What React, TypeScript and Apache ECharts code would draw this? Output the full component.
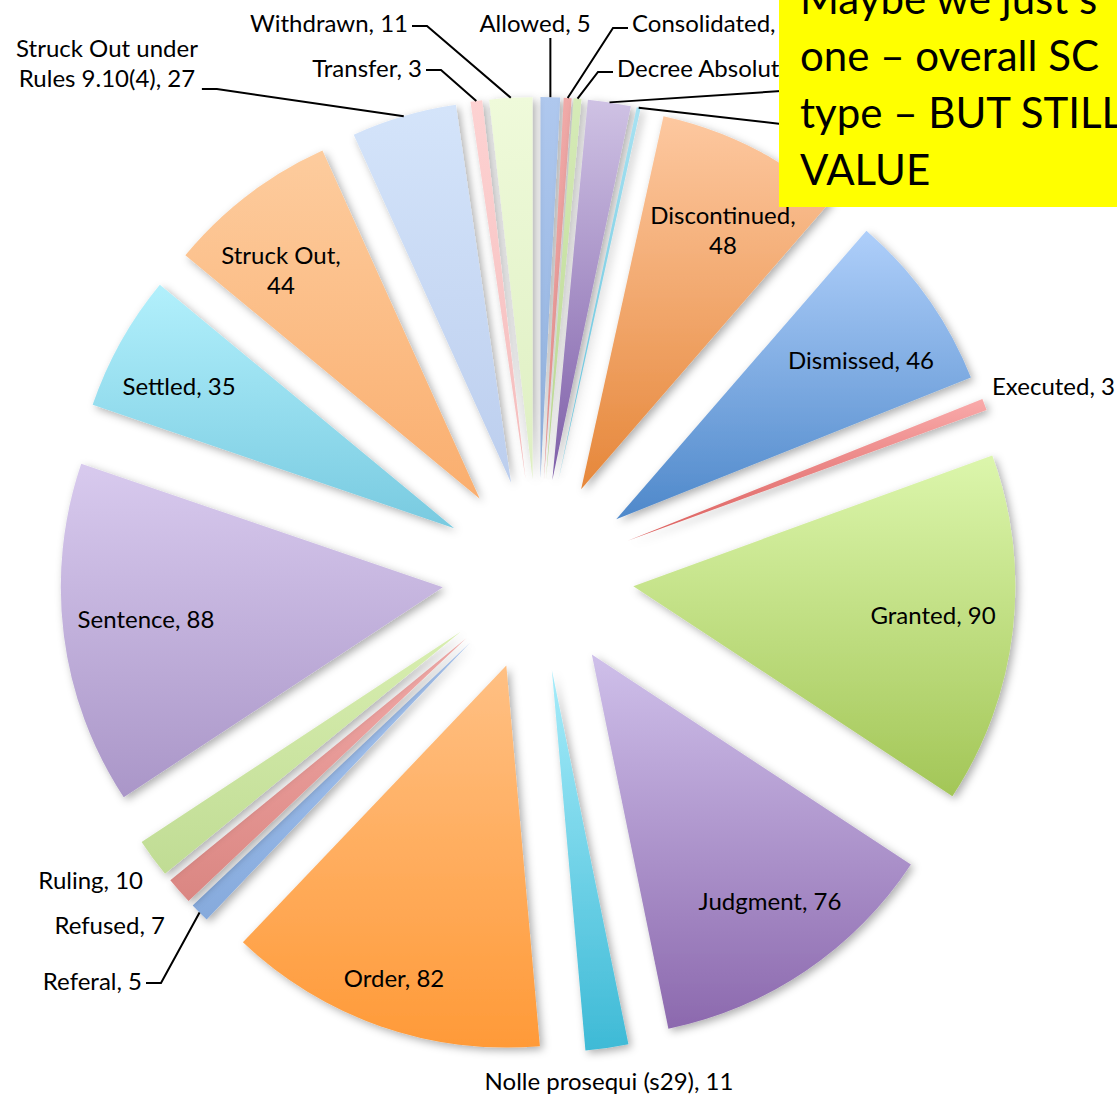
import { useEffect, useRef } from 'react';
import * as echarts from 'echarts';

// ---------------- data ----------------
const categories = [
  'Allowed',
  'Consolidated',
  'Decree Absolute',
  'Decree Nisi',
  'Determined',
  'Discontinued',
  'Dismissed',
  'Executed',
  'Granted',
  'Judgment',
  'Nolle prosequi (s29)',
  'Order',
  'Referal',
  'Refused',
  'Ruling',
  'Sentence',
  'Settled',
  'Struck Out',
  'Struck Out under Rules 9.10(4)',
  'Transfer',
  'Withdrawn',
];
const values = [5, 2, 2, 11, 1, 48, 46, 3, 90, 76, 11, 82, 5, 7, 10, 88, 35, 44, 27, 3, 11];

const noteLines = ['Maybe we just s', 'one \u2013 overall SC', 'type \u2013 BUT STILL', 'VALUE'];

// ---------------- styles ----------------
const gradientTop = [
  '#AFC8EE', '#F0AAA8', '#D6EBB8', '#CFC2E4', '#A8E2F2', '#FDC8A0',
  '#AFCFFA', '#F9AAAA', '#DCF6AC', '#CFC0EA', '#A6ECFA', '#FFC084',
  '#A8C6F2', '#F2AAA8', '#D8EEB0', '#D8CAEE', '#B2F0FC', '#FDCC9E',
  '#D4E4FA', '#FDD2D2', '#EFFADA',
];
const gradientBottom = [
  '#8FB0DE', '#E48C8A', '#B8D68E', '#7E5EA8', '#5CC0DA', '#E6873A',
  '#4E88CA', '#DB5E5C', '#A3C657', '#8C69AE', '#3EBAD6', '#FF9A38',
  '#86AADC', '#DA8682', '#C0DC94', '#AA96C8', '#78CAE0', '#FAAE6E',
  '#BCCEEE', '#F4BCBC', '#DEEFC2',
];

const PIE_CENTER = [538, 575];
const PIE_RADIUS = 382;
const EXPLODE = 96;
const FONT = 'Lato, "Open Sans", sans-serif';
const LABEL_SIZE = 24;
const GAP = 4;
const ELBOW = 15;

type Placement = {
  x: number;
  y: number;
  align: 'left' | 'right' | 'center';
  inside?: boolean;
  leader?: 'left' | 'right' | 'bottom';
  dy?: number;
  covered?: boolean; // label sits fully behind the yellow note
};

const labelPlacement: Record<string, Placement> = {
  'Allowed': { x: 535, y: 22, align: 'center', leader: 'bottom' },
  'Consolidated': { x: 632, y: 22, align: 'left', leader: 'left', dy: 6 },
  'Decree Absolute': { x: 617, y: 67, align: 'left', leader: 'left', dy: 5 },
  'Decree Nisi': { x: 800, y: 88, align: 'left', leader: 'left', dy: 3, covered: true },
  'Determined': { x: 800, y: 121, align: 'left', leader: 'left', dy: 3, covered: true },
  'Discontinued': { x: 723, y: 229, align: 'center', inside: true },
  'Dismissed': { x: 861, y: 359, align: 'center', inside: true },
  'Executed': { x: 992, y: 385, align: 'left' },
  'Granted': { x: 933, y: 614, align: 'center', inside: true },
  'Judgment': { x: 770, y: 900, align: 'center', inside: true },
  'Nolle prosequi (s29)': { x: 609, y: 1080, align: 'center' },
  'Order': { x: 394, y: 977, align: 'center', inside: true },
  'Referal': { x: 142, y: 980, align: 'right', leader: 'right', dy: 3 },
  'Refused': { x: 165, y: 924, align: 'right' },
  'Ruling': { x: 143, y: 879, align: 'right' },
  'Sentence': { x: 146, y: 618, align: 'center', inside: true },
  'Settled': { x: 179, y: 385, align: 'center', inside: true },
  'Struck Out': { x: 281, y: 269, align: 'center', inside: true },
  'Struck Out under Rules 9.10(4)': { x: 107, y: 62, align: 'center', leader: 'right', dy: 27 },
  'Transfer': { x: 422, y: 67, align: 'right', leader: 'right', dy: 3 },
  'Withdrawn': { x: 408, y: 22, align: 'right', leader: 'right', dy: 4 },
};

const labelTemplate: Record<string, string> = {
  'Discontinued': '{name},\n{value}',
  'Struck Out': '{name},\n{value}',
  'Struck Out under Rules 9.10(4)': 'Struck Out under\nRules 9.10(4), {value}',
};

// mid angle of each slice (clockwise from 12 o'clock), derived from the values
const total = values.reduce((a, b) => a + b, 0);
const midAngles: number[] = [];
{
  let acc = 0;
  values.forEach((v) => {
    midAngles.push(((acc + v / 2) / total) * Math.PI * 2);
    acc += v;
  });
}

// leader line from the outer edge of the exploded slice to the label
function leaderPoints(i: number, p: Placement, w: number): number[][] {
  const th = midAngles[i];
  const ux = Math.sin(th);
  const uy = -Math.cos(th);
  const ax = PIE_CENTER[0] + (PIE_RADIUS + EXPLODE) * ux;
  const ay = PIE_CENTER[1] + (PIE_RADIUS + EXPLODE) * uy;
  const left = p.align === 'left' ? p.x : p.align === 'right' ? p.x - w : p.x - w / 2;
  const right = left + w;
  const y = p.y + (p.dy || 0);
  if (p.leader === 'right') {
    return [
      [ax, ay],
      [right + GAP + ELBOW, y],
      [right + GAP, y],
    ];
  }
  if (p.leader === 'left') {
    return [
      [ax, ay],
      [left - GAP - ELBOW, y],
      [left - GAP, y],
    ];
  }
  return [
    [ax, ay],
    [ax, p.y + 16],
  ];
}

export default function App() {
  const ref = useRef<HTMLDivElement>(null);

  useEffect(() => {
    if (!ref.current) return;
    const chart = echarts.init(ref.current, undefined, { renderer: 'svg' });

    const sliceData = categories.map((name, i) => ({
      name,
      value: values[i],
      selected: true,
      itemStyle: {
        color: new echarts.graphic.LinearGradient(0, 0, 0, 1, [
          { offset: 0, color: gradientTop[i] },
          { offset: 1, color: gradientBottom[i] },
        ]),
      },
    }));

    const labelData = categories.map((name, i) => {
      const p = labelPlacement[name];
      return {
        name,
        value: values[i],
        label: { position: p && p.inside ? 'inside' : 'outside' },
        labelLine: { show: !!(p && p.leader) },
      };
    });

    chart.setOption({
      animation: false,
      backgroundColor: '#ffffff',
      series: [
        {
          // exploded slices
          type: 'pie',
          z: 2,
          center: PIE_CENTER,
          radius: PIE_RADIUS,
          startAngle: 90,
          clockwise: true,
          selectedMode: 'multiple',
          selectedOffset: EXPLODE,
          emphasis: { disabled: true },
          silent: true,
          itemStyle: {
            borderWidth: 0,
            shadowBlur: 8,
            shadowOffsetX: 3,
            shadowOffsetY: 3,
            shadowColor: 'rgba(0,0,0,0.32)',
          },
          select: { itemStyle: { borderWidth: 0 } },
          label: { show: false },
          labelLine: { show: false },
          data: sliceData,
        },
        {
          // same values, transparent, carrying the data labels
          type: 'pie',
          z: 3,
          center: PIE_CENTER,
          radius: PIE_RADIUS,
          startAngle: 90,
          clockwise: true,
          selectedMode: false,
          silent: true,
          avoidLabelOverlap: false,
          emphasis: { disabled: true },
          itemStyle: { color: 'rgba(0,0,0,0)', borderWidth: 0 },
          label: {
            show: true,
            color: '#000000',
            fontFamily: FONT,
            fontSize: LABEL_SIZE,
            lineHeight: 30,
            overflow: 'none',
            textBorderWidth: 0,
            formatter: (prm: any) => {
              const p = labelPlacement[prm.name];
              if (p && p.covered) return ' ';
              const t = labelTemplate[prm.name] || '{name}, {value}';
              return t.replace('{name}', prm.name).replace('{value}', String(prm.value));
            },
          },
          labelLine: {
            length: 10,
            length2: 15,
            lineStyle: { color: '#000000', width: 2 },
          },
          labelLayout: (params: any) => {
            const name = categories[params.dataIndex];
            const p = labelPlacement[name];
            if (!p) return {};
            const out: any = {
              x: p.x,
              y: p.y,
              align: p.align,
              verticalAlign: 'middle',
            };
            if (p.leader) {
              out.labelLinePoints = leaderPoints(params.dataIndex, p, params.labelRect.width);
            }
            return out;
          },
          data: labelData,
        },
      ],
      graphic: [
        {
          type: 'rect',
          z: 100,
          shape: { x: 779, y: -5, width: 345, height: 212 },
          style: { fill: '#FFFF00' },
        },
        ...noteLines.map((t, i) => ({
          type: 'text',
          z: 101,
          x: 800,
          y: -2 + i * 57,
          style: {
            text: t,
            fill: '#000000',
            fontFamily: FONT,
            fontSize: 42,
            verticalAlign: 'middle',
            align: 'left',
          },
        })),
      ],
    });

    return () => chart.dispose();
  }, []);

  return (
    <div
      ref={ref}
      style={{ position: 'absolute', left: 0, top: 0, width: 1117, height: 1095, background: '#fff' }}
    />
  );
}
